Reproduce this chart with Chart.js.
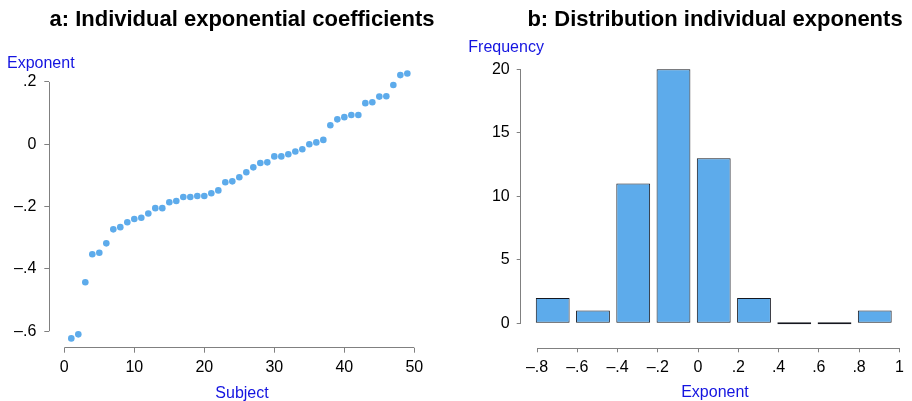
<!DOCTYPE html>
<html>
<head>
<meta charset="utf-8">
<script src="https://cdn.jsdelivr.net/npm/chart.js@4.4.1/dist/chart.umd.min.js"></script>
<style>
  body { margin: 0; background: #fff; overflow: hidden; }
  #wrap { position: relative; width: 912px; height: 401px; }
  canvas { position: absolute; top: 0; }
</style>
</head>
<body>
<div id="wrap">
  <canvas id="expChart" width="456" height="401" style="left:0"></canvas>
  <canvas id="histChart" width="456" height="401" style="left:456px"></canvas>
</div>
<script>
// panel a: one exponent per subject, sorted
const subjects = [1, 2, 3, 4, 5, 6, 7, 8, 9, 10, 11, 12, 13, 14, 15, 16, 17, 18, 19, 20,
  21, 22, 23, 24, 25, 26, 27, 28, 29, 30, 31, 32, 33, 34, 35, 36, 37, 38, 39, 40,
  41, 42, 43, 44, 45, 46, 47, 48, 49];
const exponents = [-0.623, -0.610, -0.443, -0.353, -0.348, -0.318, -0.273, -0.266, -0.250, -0.240,
  -0.236, -0.222, -0.205, -0.205, -0.186, -0.182, -0.169, -0.169, -0.166, -0.166,
  -0.157, -0.148, -0.122, -0.119, -0.106, -0.090, -0.074, -0.060, -0.058, -0.039,
  -0.039, -0.032, -0.023, -0.016, 0.000, 0.006, 0.014, 0.061, 0.080, 0.087,
  0.094, 0.094, 0.132, 0.135, 0.153, 0.154, 0.190, 0.222, 0.227];
const subjectTicks = [0, 10, 20, 30, 40, 50];
const exponentTicks = [-0.6, -0.4, -0.2, 0, 0.2];

// panel b: histogram of the exponents
const binCenters = [-0.722, -0.522, -0.322, -0.122, 0.078, 0.278, 0.478, 0.678, 0.878];
const binCounts = [2, 1, 11, 20, 13, 2, 0, 0, 1];
const histXTicks = [-0.8, -0.6, -0.4, -0.2, 0, 0.2, 0.4, 0.6, 0.8, 1];
const freqTicks = [0, 5, 10, 15, 20];

const BLUE_TEXT = '#1414e0';
const MARK = '#5dabeb';
const AXIS = '#808080';

Chart.defaults.font.family = '"Liberation Sans", Arial, sans-serif';
Chart.defaults.color = '#000';

// ".2", "–.4", "0", "10"
function fmt(v) {
  if (v === 0) return '0';
  const s = String(Math.abs(v)).replace(/^0\./, '.');
  return (v < 0 ? '\u2013' : '') + s;
}

function align(p) { return Math.round(p - 0.5) + 0.5; }

// axis lines that only run from first to last tick (stata style)
const rangeAxes = {
  id: 'rangeAxes',
  afterDatasetsDraw(chart, args, opts) {
    const { ctx, chartArea, scales } = chart;
    const xs = opts.xTicks, ys = opts.yTicks;
    ctx.save();
    ctx.strokeStyle = AXIS;
    ctx.lineWidth = 1;
    ctx.beginPath();
    const by = align(chartArea.bottom);
    ctx.moveTo(scales.x.getPixelForValue(xs[0]), by);
    ctx.lineTo(scales.x.getPixelForValue(xs[xs.length - 1]), by);
    const lx = align(chartArea.left);
    ctx.moveTo(lx, scales.y.getPixelForValue(ys[0]));
    ctx.lineTo(lx, scales.y.getPixelForValue(ys[ys.length - 1]));
    ctx.stroke();
    ctx.restore();
  }
};

function tickAxis(list, tickLen, pad, extra) {
  return Object.assign({
    type: 'linear',
    offset: false,
    border: { display: false },
    grid: { display: true, drawOnChartArea: false, drawTicks: true, tickLength: tickLen, color: AXIS, offset: false },
    afterBuildTicks: s => { s.ticks = list.map(v => ({ value: v })); },
    ticks: { font: { size: 16 }, color: '#000', padding: pad, callback: v => fmt(v) }
  }, extra);
}

function titles(main, side, gap) {
  return {
    legend: { display: false },
    tooltip: { enabled: false },
    title: {
      display: true, text: main, fullSize: false, color: '#000',
      font: { size: 22, weight: 'bold', lineHeight: 1.2 },
      padding: { top: 6.8, bottom: gap - 1.5 }
    },
    subtitle: {
      display: true, text: side, align: 'start', fullSize: true, color: BLUE_TEXT,
      font: { size: 16, lineHeight: 1.2 },
      padding: { top: 3, bottom: -3 }
    }
  };
}

// a: Individual exponential coefficients
new Chart(document.getElementById('expChart'), {
  type: 'scatter',
  data: {
    datasets: [{
      data: subjects.map((s, i) => ({ x: s, y: exponents[i] })),
      backgroundColor: MARK,
      borderWidth: 0,
      pointRadius: 3.3,
      clip: false
    }]
  },
  options: {
    responsive: false,
    animation: false,
    devicePixelRatio: 1,
    layout: { padding: { left: 7, right: 21.3, top: 0, bottom: 0 } },
    plugins: Object.assign(titles('a: Individual exponential coefficients', 'Exponent', 19.2), {
      rangeAxes: { xTicks: subjectTicks, yTicks: exponentTicks }
    }),
    scales: {
      x: tickAxis(subjectTicks, 5, 5.6, {
        min: -2.143, max: 52.91,
        afterFit: s => { s.height = 53.3; },
        title: { display: true, text: 'Subject', color: BLUE_TEXT, font: { size: 16, lineHeight: 1 }, padding: { top: 0, bottom: -1 } }
      }),
      y: tickAxis(exponentTicks, 5, 8, {
        min: -0.6528, max: 0.238,
        afterFit: s => { s.width = 42.3; }
      })
    }
  },
  plugins: [rangeAxes]
});

// b: Distribution individual exponents
new Chart(document.getElementById('histChart'), {
  type: 'bar',
  data: {
    datasets: [{
      data: binCenters.map((c, i) => ({ x: c, y: binCounts[i] })),
      backgroundColor: MARK,
      borderColor: '#15171f',
      borderWidth: 1,
      borderSkipped: false,
      barPercentage: 0.84,
      categoryPercentage: 1,
      minBarLength: 2
    }]
  },
  options: {
    responsive: false,
    animation: false,
    devicePixelRatio: 1,
    layout: { padding: { left: 12.3, right: 2.7, top: 0, bottom: 0 } },
    plugins: Object.assign(titles('b: Distribution individual exponents', 'Frequency', 3.5), {
      rangeAxes: { xTicks: histXTicks, yTicks: freqTicks }
    }),
    scales: {
      x: tickAxis(histXTicks, 4, 6, {
        min: -0.881, max: 1.0495,
        afterFit: s => { s.height = 52.7; },
        title: { display: true, text: 'Exponent', color: BLUE_TEXT, font: { size: 16, lineHeight: 1 }, padding: { top: 0, bottom: 0 } }
      }),
      y: tickAxis(freqTicks, 4, 7, {
        min: -1.969, max: 21.17,
        afterFit: s => { s.width = 52.4; }
      })
    }
  },
  plugins: [rangeAxes]
});
</script>
</body>
</html>
